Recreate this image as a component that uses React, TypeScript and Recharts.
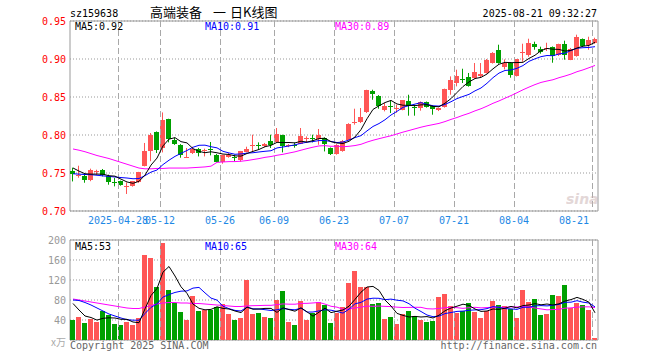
import React from "react";
import {
  ComposedChart,
  Bar,
  Line,
  XAxis,
  YAxis,
  CartesianGrid,
  ReferenceArea,
  ReferenceLine,
} from "recharts";

const UP = "#ff5555";
const DOWN = "#00a000";
const GRID = "#a8a8a8";
const MONO = "'DejaVu Sans Mono', monospace";
const CJK = "'Noto Sans CJK SC', sans-serif";

// trading days shown in the window
const dates = [
  "2025-04-16", "2025-04-17", "2025-04-18", "2025-04-21", "2025-04-22", "2025-04-23", "2025-04-24", "2025-04-25",
  "2025-04-28", "2025-04-29", "2025-04-30", "2025-05-06", "2025-05-07", "2025-05-08", "2025-05-09", "2025-05-12",
  "2025-05-13", "2025-05-14", "2025-05-15", "2025-05-16", "2025-05-19", "2025-05-20", "2025-05-21", "2025-05-22",
  "2025-05-23", "2025-05-26", "2025-05-27", "2025-05-28", "2025-05-29", "2025-05-30", "2025-06-03", "2025-06-04",
  "2025-06-05", "2025-06-06", "2025-06-09", "2025-06-10", "2025-06-11", "2025-06-12", "2025-06-13", "2025-06-16",
  "2025-06-17", "2025-06-18", "2025-06-19", "2025-06-20", "2025-06-23", "2025-06-24", "2025-06-25", "2025-06-26",
  "2025-06-27", "2025-06-30", "2025-07-01", "2025-07-02", "2025-07-03", "2025-07-04", "2025-07-07", "2025-07-08",
  "2025-07-09", "2025-07-10", "2025-07-11", "2025-07-14", "2025-07-15", "2025-07-16", "2025-07-17", "2025-07-18",
  "2025-07-21", "2025-07-22", "2025-07-23", "2025-07-24", "2025-07-25", "2025-07-28", "2025-07-29", "2025-07-30",
  "2025-07-31", "2025-08-01", "2025-08-04", "2025-08-05", "2025-08-06", "2025-08-07", "2025-08-08", "2025-08-11",
  "2025-08-12", "2025-08-13", "2025-08-14", "2025-08-15", "2025-08-18", "2025-08-19", "2025-08-20", "2025-08-21",
];

const labelDates = [
  "2025-04-28", "2025-05-12", "2025-05-26", "2025-06-09", "2025-06-23",
  "2025-07-07", "2025-07-21", "2025-08-04", "2025-08-21",
];

const opens = [
  0.752, 0.7455, 0.7455, 0.7403, 0.751, 0.7534, 0.7455, 0.7385, 0.7389, 0.7325,
  0.7333, 0.7376, 0.7596, 0.7793, 0.8039, 0.7829, 0.8214, 0.7929, 0.7872, 0.7708,
  0.7763, 0.782, 0.779, 0.781, 0.7741, 0.7645, 0.7715, 0.771, 0.7675, 0.778,
  0.7866, 0.7875, 0.785, 0.7916, 0.7908, 0.8, 0.7851, 0.7875, 0.7886, 0.7955,
  0.7965, 0.7941, 0.7961, 0.7829, 0.7754, 0.7793, 0.7938, 0.8165, 0.8171, 0.8297,
  0.8583, 0.8517, 0.8333, 0.8383, 0.835, 0.8333, 0.8442, 0.8372, 0.8359, 0.8429,
  0.8386, 0.8324, 0.8368, 0.8596, 0.8684, 0.874, 0.8758, 0.875, 0.8771, 0.8816,
  0.8947, 0.9113, 0.8895, 0.8951, 0.8776, 0.9083, 0.9047, 0.9195, 0.9136, 0.9136,
  0.9158, 0.905, 0.9199, 0.8991, 0.9037, 0.9263, 0.9184, 0.9211,
];

const highs = [
  0.757, 0.7596, 0.7478, 0.7557, 0.7543, 0.7553, 0.7478, 0.7434, 0.74, 0.7376,
  0.7395, 0.7515, 0.7895, 0.8026, 0.8047, 0.8297, 0.8214, 0.7964, 0.788, 0.7829,
  0.7846, 0.783, 0.782, 0.7908, 0.775, 0.774, 0.7763, 0.7741, 0.779, 0.7846,
  0.8004, 0.7903, 0.7895, 0.8004, 0.8092, 0.8004, 0.788, 0.7899, 0.8092, 0.7982,
  0.8004, 0.8079, 0.7968, 0.7836, 0.788, 0.7935, 0.8155, 0.8346, 0.8355, 0.8595,
  0.8596, 0.8525, 0.8421, 0.8455, 0.8399, 0.846, 0.853, 0.8399, 0.8442, 0.844,
  0.839, 0.836, 0.861, 0.8771, 0.8859, 0.8872, 0.8816, 0.8947, 0.8947, 0.9,
  0.909, 0.9188, 0.8995, 0.896, 0.9, 0.9201, 0.9267, 0.9228, 0.9162, 0.9214,
  0.9165, 0.9201, 0.9241, 0.9145, 0.932, 0.927, 0.9293, 0.928,
];

const lows = [
  0.7389, 0.7438, 0.7372, 0.7392, 0.7478, 0.7455, 0.7346, 0.7324, 0.7333, 0.7224,
  0.732, 0.737, 0.7587, 0.7655, 0.7763, 0.7771, 0.7903, 0.787, 0.7701, 0.7697,
  0.775, 0.7718, 0.7718, 0.7732, 0.764, 0.7622, 0.7701, 0.7653, 0.7649, 0.7771,
  0.7784, 0.7807, 0.784, 0.7829, 0.79, 0.7771, 0.784, 0.7833, 0.788, 0.7895,
  0.7903, 0.7872, 0.7784, 0.7737, 0.7741, 0.778, 0.793, 0.8136, 0.8158, 0.829,
  0.8464, 0.8346, 0.8311, 0.8289, 0.8293, 0.8325, 0.8254, 0.8254, 0.832, 0.836,
  0.8267, 0.8315, 0.836, 0.853, 0.864, 0.8684, 0.8636, 0.874, 0.875, 0.881,
  0.894, 0.8938, 0.8863, 0.8754, 0.877, 0.8964, 0.903, 0.9122, 0.907, 0.9105,
  0.8951, 0.904, 0.8991, 0.8985, 0.903, 0.916, 0.9122, 0.92,
];

const closes = [
  0.7484, 0.7478, 0.7403, 0.7543, 0.752, 0.7478, 0.7376, 0.7376, 0.7346, 0.7335,
  0.7389, 0.7508, 0.7784, 0.8004, 0.7797, 0.8192, 0.7951, 0.7882, 0.7741, 0.7714,
  0.7816, 0.7768, 0.7797, 0.78, 0.7649, 0.7732, 0.7741, 0.7705, 0.7784, 0.782,
  0.7872, 0.7868, 0.7886, 0.7872, 0.8017, 0.7859, 0.7872, 0.786, 0.7982, 0.7962,
  0.7955, 0.8004, 0.7886, 0.7754, 0.7872, 0.7925, 0.8149, 0.8171, 0.8237, 0.8587,
  0.8539, 0.8386, 0.8386, 0.8376, 0.8355, 0.8455, 0.8376, 0.8368, 0.8429, 0.8368,
  0.8342, 0.835, 0.8605, 0.8728, 0.8771, 0.8737, 0.8649, 0.8829, 0.8806, 0.8991,
  0.9079, 0.8951, 0.8951, 0.8789, 0.8995, 0.9096, 0.9205, 0.9162, 0.9089, 0.9142,
  0.9046, 0.9192, 0.9054, 0.9136, 0.9293, 0.9166, 0.9245, 0.9258,
];

// volume, in units of 10k shares
const volumes = [
  40, 46, 34, 43, 36, 58, 51, 32, 30, 36,
  31, 44, 170, 164, 106, 195, 100, 75, 56, 40,
  88, 58, 60, 60, 66, 72, 52, 40, 44, 120,
  52, 54, 46, 44, 80, 98, 36, 30, 78, 40,
  54, 76, 70, 34, 54, 66, 114, 138, 106, 106,
  72, 74, 42, 46, 32, 52, 58, 48, 40, 36,
  38, 86, 92, 68, 54, 58, 74, 56, 44, 58,
  78, 70, 68, 62, 44, 100, 76, 82, 50, 52,
  90, 88, 110, 64, 74, 70, 60, 4,
];

const ma5Head = [0.7566, 0.7525, 0.749, 0.7485];
const ma10Head = [0.749, 0.7485, 0.748, 0.7478, 0.747, 0.7462, 0.7455, 0.7447, 0.744];
const ma30Head = [
  0.7816, 0.78, 0.778, 0.7755, 0.773, 0.771, 0.769, 0.7665, 0.764, 0.7615,
  0.759, 0.7565, 0.7555, 0.7555, 0.756, 0.756, 0.7565, 0.7565, 0.7565, 0.7565,
  0.757, 0.7575, 0.758, 0.759, 0.764, 0.7645, 0.765, 0.765, 0.7655,
];
const volMa5Head = [73, 60, 48, 45];
const volMa10Head = [80, 79, 75, 70, 64, 58, 52, 48, 44];
const volMa30Head = [
  82, 80, 78, 76, 74, 72, 70, 68, 66, 64,
  63, 63, 66, 69, 72, 74, 75, 75, 74, 74,
  73, 73, 72, 71, 70, 69, 68, 67, 67,
];

const priceDomain = [0.7, 0.95];
const volDomain = [0, 200];
const priceTicks = [0.7, 0.75, 0.8, 0.85, 0.9, 0.95];
const volTicks = [40, 80, 120, 160, 200];
const priceMaLabels = ["0.92", "0.91", "0.89"];
const volMaLabels = ["53", "65", "64"];

function movingAverage(values: number[], n: number, head: number[]) {
  return values.map((_, i) => {
    if (i < n - 1) return head[i];
    let s = 0;
    for (let j = i - n + 1; j <= i; j++) s += values[j];
    return s / n;
  });
}

const ma5 = movingAverage(closes, 5, ma5Head);
const ma10 = movingAverage(closes, 10, ma10Head);
const ma30 = movingAverage(closes, 30, ma30Head);
const vma5 = movingAverage(volumes, 5, volMa5Head);
const vma10 = movingAverage(volumes, 10, volMa10Head);
const vma30 = movingAverage(volumes, 30, volMa30Head);

const isLabelled = (d: string) => labelDates.includes(d);

const priceData = dates.map((d, i) => ({
  x: i + 0.5,
  date: d,
  open: opens[i],
  high: highs[i],
  low: lows[i],
  close: closes[i],
  range: [lows[i], highs[i]],
  dateLine: isLabelled(d) ? priceDomain : null,
  ma5: ma5[i],
  ma10: ma10[i],
  ma30: ma30[i],
}));

const volData = dates.map((d, i) => ({
  x: i + 0.5,
  date: d,
  vol: volumes[i],
  up: closes[i] >= opens[i],
  dateLine: isLabelled(d) ? volDomain : null,
  ma5: vma5[i],
  ma10: vma10[i],
  ma30: vma30[i],
}));

const xTicks = labelDates.map((d) => dates.indexOf(d));

const Candle = (props: any) => {
  const { x, y, width, height, payload } = props;
  const top = Math.min(y, y + height);
  const span = Math.abs(height);
  const { open, close, high, low } = payload;
  const k = span / (high - low);
  const py = (v: number) => top + (high - v) * k;
  const color = close >= open ? UP : DOWN;
  const bx = Math.round(x);
  const bw = Math.round(width);
  const cx = bx + Math.floor(bw / 2) + 0.5;
  const yTop = py(Math.max(open, close));
  const yBot = py(Math.min(open, close));
  return (
    <g>
      <line x1={cx} x2={cx} y1={top} y2={top + span} stroke={color} strokeWidth={1} />
      <rect x={bx} y={yTop} width={bw} height={Math.max(1, yBot - yTop)} fill={color} />
    </g>
  );
};

const VolBar = (props: any) => {
  const { x, y, width, height, payload } = props;
  return (
    <rect
      x={Math.round(x)}
      y={Math.min(y, y + height)}
      width={Math.round(width)}
      height={Math.abs(height)}
      fill={payload.up ? UP : DOWN}
    />
  );
};

// vertical dashed line built from short segments (6 on, 3 off)
const dashes = (px: number, top: number, bottom: number) => {
  const out = [];
  for (let yy = top; yy < bottom; yy += 9) {
    out.push(<rect key={yy} x={px} y={yy} width={1} height={Math.min(6, bottom - yy)} fill={GRID} />);
  }
  return <g>{out}</g>;
};

// full-slot bar whose left edge is the day boundary
const DateLineBar = (props: any) => {
  const { x, y, height, payload } = props;
  if (!payload || !payload.dateLine || !height) return null;
  const top = Math.min(y, y + height);
  return dashes(Math.round(x), Math.round(top), Math.round(top + Math.abs(height)));
};

const DateLineRef = (p: any) => {
  if (p.x1 == null) return null;
  const top = Math.min(p.y1, p.y2);
  const bottom = Math.max(p.y1, p.y2);
  return dashes(Math.floor(p.x1), Math.round(top), Math.round(bottom));
};

const PriceTick = ({ x, y, payload }: any) => (
  <text x={x} y={y + 3.5} textAnchor="end" fill="#ff0000" fontSize={10} fontFamily={MONO}>
    {payload.value.toFixed(2)}
  </text>
);

const VolTick = ({ x, y, payload }: any) => (
  <text x={x} y={y + 3.5} textAnchor="end" fill="#999999" fontSize={10} fontFamily={MONO}>
    {payload.value}
  </text>
);

const DateTick = ({ x, y, payload, index }: any) => {
  const d = dates[payload.value] || "";
  const last = index === labelDates.length - 1;
  return (
    <text
      x={last ? x - 3 : x}
      y={y + 13}
      textAnchor={last ? "end" : "middle"}
      fill="#1e88e5"
      fontSize={10}
      fontFamily={MONO}
    >
      {index === 0 ? d : d.slice(5)}
    </text>
  );
};

const App = () => {
  return (
    <div
      style={{
        position: "absolute",
        left: 0,
        top: 0,
        width: 660,
        height: 360,
        background: "#fff",
        overflow: "hidden",
      }}
    >
      <style>{`.kc rect { shape-rendering: crispEdges; }`}</style>
      <div className="kc" style={{ position: "absolute", left: 0, top: 0 }}>
        <ComposedChart width={660} height={230} data={priceData} margin={{ top: 21, right: 62, bottom: 0, left: 0 }}>
          <CartesianGrid vertical={false} stroke="#999" strokeDasharray="1 2" />
          <XAxis
            type="number"
            dataKey="x"
            domain={[0, 88]}
            ticks={xTicks}
            interval={0}
            tick={<DateTick />}
            tickLine={false}
            axisLine={false}
            tickSize={0}
            tickMargin={0}
            height={19}
          />
          <XAxis xAxisId="grid" type="number" dataKey="x" domain={[0, 88]} hide />
          <YAxis
            type="number"
            domain={priceDomain}
            ticks={priceTicks}
            interval={0}
            tick={<PriceTick />}
            tickLine={false}
            axisLine={false}
            tickSize={0}
            tickMargin={4}
            width={70}
          />
          {xTicks.map((t) => (
            <ReferenceLine key={t} x={t} ifOverflow="visible" shape={DateLineRef} />
          ))}
          <Bar xAxisId="grid" dataKey="dateLine" barSize={6} shape={<DateLineBar />} isAnimationActive={false} />
          <ReferenceArea x1={0} x2={88} y1={0.7} y2={0.95} fill="none" stroke="#999" strokeWidth={1} />
          <Bar dataKey="range" barSize={5} shape={<Candle />} isAnimationActive={false} />
          <Line type="linear" dataKey="ma30" stroke="#ff00ff" strokeWidth={1} dot={false} isAnimationActive={false} />
          <Line type="linear" dataKey="ma10" stroke="#0000ff" strokeWidth={1} dot={false} isAnimationActive={false} />
          <Line type="linear" dataKey="ma5" stroke="#000000" strokeWidth={1} dot={false} isAnimationActive={false} />
        </ComposedChart>
      </div>
      <div className="kc" style={{ position: "absolute", left: 0, top: 230 }}>
        <ComposedChart width={660} height={130} data={volData} margin={{ top: 10, right: 62, bottom: 20, left: 0 }}>
          <CartesianGrid vertical={false} stroke="#999" strokeDasharray="1 2" />
          <XAxis type="number" dataKey="x" domain={[0, 88]} hide />
          <XAxis xAxisId="grid" type="number" dataKey="x" domain={[0, 88]} hide />
          <YAxis
            type="number"
            domain={volDomain}
            ticks={volTicks}
            interval={0}
            tick={<VolTick />}
            tickLine={false}
            axisLine={false}
            tickSize={0}
            tickMargin={4}
            width={70}
          />
          {xTicks.map((t) => (
            <ReferenceLine key={t} x={t} ifOverflow="visible" shape={DateLineRef} />
          ))}
          <Bar xAxisId="grid" dataKey="dateLine" barSize={6} shape={<DateLineBar />} isAnimationActive={false} />
          <ReferenceArea x1={0} x2={88} y1={0} y2={200} fill="none" stroke="#999" strokeWidth={1} />
          <Bar dataKey="vol" barSize={5} shape={<VolBar />} isAnimationActive={false} />
          <Line type="linear" dataKey="ma30" stroke="#ff00ff" strokeWidth={1} dot={false} isAnimationActive={false} />
          <Line type="linear" dataKey="ma10" stroke="#0000ff" strokeWidth={1} dot={false} isAnimationActive={false} />
          <Line type="linear" dataKey="ma5" stroke="#000000" strokeWidth={1} dot={false} isAnimationActive={false} />
        </ComposedChart>
      </div>
      <svg
        width={660}
        height={360}
        style={{ position: "absolute", left: 0, top: 0, pointerEvents: "none" }}
      >
        <text x={70} y={17} fontSize={10} fontFamily={MONO} fill="#000">sz159638</text>
        <text x={150} y={17} fontSize={13} fontFamily={CJK} fill="#000">高端装备</text>
        <text x={213} y={17} fontSize={13} fontFamily={CJK} fill="#000">一</text>
        <text x={230} y={17} fontSize={13} fontFamily={CJK} fill="#000">日K线图</text>
        <text x={597} y={17} fontSize={10} fontFamily={MONO} fill="#000" textAnchor="end">
          2025-08-21 09:32:27
        </text>
        <text x={75} y={30} fontSize={10} fontFamily={MONO} fill="#000">{`MA5:${priceMaLabels[0]}`}</text>
        <text x={205} y={30} fontSize={10} fontFamily={MONO} fill="#0000ff">{`MA10:${priceMaLabels[1]}`}</text>
        <text x={335} y={30} fontSize={10} fontFamily={MONO} fill="#ff00ff">{`MA30:${priceMaLabels[2]}`}</text>
        <text x={75} y={250} fontSize={10} fontFamily={MONO} fill="#000">{`MA5:${volMaLabels[0]}`}</text>
        <text x={205} y={250} fontSize={10} fontFamily={MONO} fill="#0000ff">{`MA10:${volMaLabels[1]}`}</text>
        <text x={335} y={250} fontSize={10} fontFamily={MONO} fill="#ff00ff">{`MA30:${volMaLabels[2]}`}</text>
        <text x={66} y={346} fontSize={10} fontFamily={CJK} fill="#aaa" textAnchor="end">
          x万
        </text>
        <text x={70} y={349} fontSize={10} fontFamily={MONO} fill="#666">Copyright 2025 SINA.COM</text>
        <text x={597} y={349} fontSize={10} fontFamily={MONO} fill="#666" textAnchor="end">
          http://finance.sina.com.cn
        </text>
        <text x={566} y={204} fontSize={14} fontStyle="italic" fontWeight="bold" fontFamily="'DejaVu Sans', sans-serif" fill="#c8b0b0" opacity={0.5}>
          sina
        </text>
      </svg>
    </div>
  );
};

export default App;
